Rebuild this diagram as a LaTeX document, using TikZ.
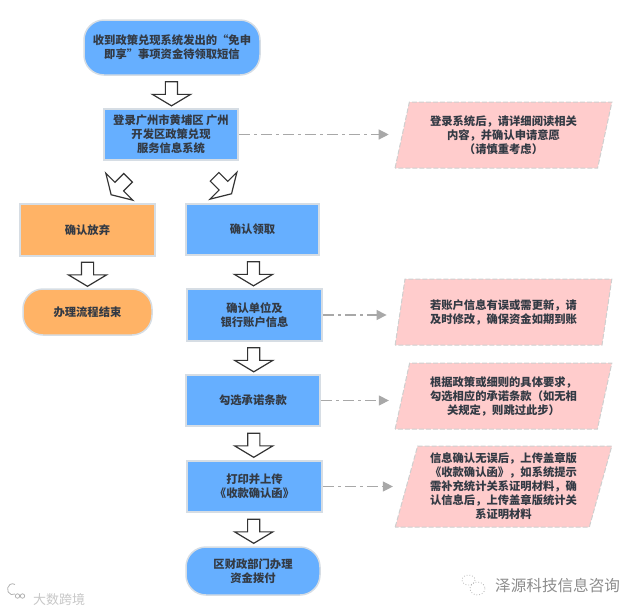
\documentclass[tikz,border=0pt]{standalone}
\usepackage{fontspec}
\newfontfamily\cjkfont{Noto Sans CJK SC}
\usepackage{tikz}
\usetikzlibrary{positioning}
\usetikzlibrary{arrows.meta,shapes.geometric,shapes.arrows}
\definecolor{boxblue}{HTML}{66AFFF}
\definecolor{boxorange}{HTML}{FFB366}
\definecolor{boxedge}{HTML}{D6DDE4}
\definecolor{notepink}{HTML}{FFCCCC}
\definecolor{noteedge}{HTML}{CFCFCF}
\definecolor{labelgrey}{HTML}{333A44}
\definecolor{linkgrey}{HTML}{A8A8A8}
\tikzset{
	x=1pt,y=-1pt,
	box/.style={draw=boxedge,line width=1.5pt,fill=boxblue,text=labelgrey,inner sep=0pt,align=center,
		font=\cjkfont\bfseries\fontsize{11.3}{14}\selectfont},
	roundbox/.style={box,rounded corners=20pt},
	orangebox/.style={fill=boxorange},
	note/.style={trapezium,trapezium stretches=true,trapezium left angle=74,trapezium right angle=106,
		draw=noteedge,dash pattern=on 5pt off 2pt,line width=1pt,fill=notepink,text=labelgrey,inner sep=0pt,align=center,
		minimum width=217pt,font=\cjkfont\bfseries\fontsize{11.3}{14}\selectfont},
	blockarrow/.style={single arrow,draw=black!80,line width=1.2pt,fill=white,inner sep=5.5pt,
		single arrow head extend=13pt,single arrow tip angle=118,minimum height=24pt,anchor=center},
	link/.style={draw=linkgrey,line width=1.2pt,dash pattern=on 11pt off 4pt on 3pt off 4pt,
		-{Triangle[length=10pt,width=10pt,fill=linkgrey]},shorten >=13pt},
	mark text/.style={inner sep=0pt,anchor=west},
	mark line/.style={draw=black!30,line width=.8pt},
}
\begin{document}
\begin{tikzpicture}
	\useasboundingbox (0,0) rectangle (633,614);
	\node (start) [roundbox,minimum width=176pt,minimum height=55pt] at (172,47.5) {收到政策兑现系统发出的“免申\\即享”事项资金待领取短信};
	\node (login) [box,minimum width=134pt,minimum height=51pt] at (171,134.5) {登录广州市黄埔区 广州\\开发区政策兑现\\服务信息系统};
	\node (quit) [box,orangebox,minimum width=135pt,minimum height=52pt] at (87.5,230) {确认放弃};
	\node (finish) [roundbox,orangebox,minimum width=129pt,minimum height=46pt] at (87.5,312) {办理流程结束};
	\node (claim) [box,minimum width=133pt,minimum height=51pt] at (252.5,229.5) {确认领取};
	\node (bank) [box,minimum width=135pt,minimum height=52pt] at (254.5,315) {确认单位及\\银行账户信息};
	\node (tick) [box,minimum width=134pt,minimum height=51pt] at (253,400.5) {勾选承诺条款};
	\node (print) [box,minimum width=135pt,minimum height=51pt] at (254.5,486.5) {打印并上传\\《收款确认函》};
	\node (pay) [roundbox,minimum width=134pt,minimum height=48pt] at (253,571) {区财政部门办理\\资金拨付};
	\node (loginnote) [note,minimum height=66pt] at (503.5,135) {登录系统后，请详细阅读相关\\内容，并确认申请意愿\\（请慎重考虑）};
	\node (banknote) [note,minimum height=66pt] at (503.5,312) {若账户信息有误或需更新，请\\及时修改，确保资金如期到账};
	\node (ticknote) [note,minimum height=66pt] at (503.5,396) {根据政策或细则的具体要求，\\勾选相应的承诺条款（如无相\\关规定，则跳过此步）};
	\node (printnote) [note,minimum height=81pt] at (503.5,486.5) {信息确认无误后，上传盖章版\\《收款确认函》，如系统提示\\需补充统计关系证明材料，确\\认信息后，上传盖章版统计关\\系证明材料};
	\path (start) -- (login) node [blockarrow,midway,rotate=-90] (a1) {};
	\path (login) -- (quit) node [blockarrow,midway,xshift=-8.5pt,yshift=-3pt,rotate=-135] (a2) {};
	\path (login) -- (claim) node [blockarrow,midway,xshift=10pt,yshift=-2pt,rotate=-45] (a3) {};
	\path (quit) -- (finish) node [blockarrow,midway,rotate=-90] (a4) {};
	\path (claim) -- (bank) node [blockarrow,midway,rotate=-90] (a5) {};
	\path (bank) -- (tick) node [blockarrow,midway,rotate=-90] (a6) {};
	\path (tick) -- (print) node [blockarrow,midway,rotate=-90] (a7) {};
	\path (print) -- (pay) node [blockarrow,midway,rotate=-90] (a8) {};
	\draw [link] (login.east) -- (login.east -| loginnote.west);
	\draw [link] (bank.east) -- (bank.east -| banknote.west);
	\draw [link] (tick.east) -- (tick.east -| ticknote.west);
	\draw [link] (print.east) -- (print.east -| printnote.west);
	\node (brandleft) [mark text,text=black!22,font=\cjkfont\fontsize{13}{13}\selectfont] at (33,600) {大数跨境};
	\node (brandright) [mark text,text=black!45,font=\cjkfont\fontsize{15.6}{16}\selectfont] at (495,586) {泽源科技信息咨询};
	\draw [mark line] (15,594) arc (60:300:5 and 5.5);
	\draw [mark line] (17.5,596) circle (2.2);
	\draw [mark line] (22.5,596) circle (2.2);
	\draw [mark line,dotted] (468.5,580) ellipse (6.5 and 5);
	\draw [mark line,dotted] (477.5,588.5) ellipse (7.5 and 6.5);
\end{tikzpicture}
\end{document}
